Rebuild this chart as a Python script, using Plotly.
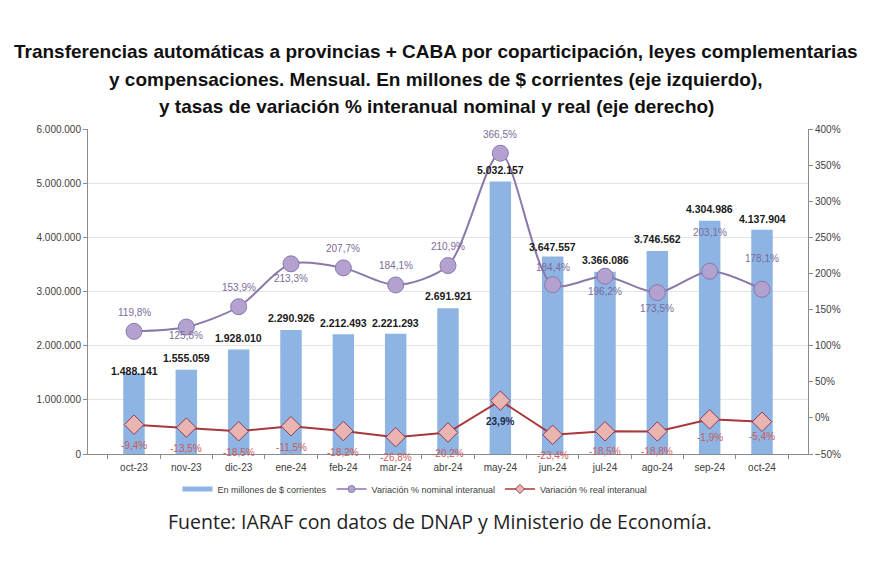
import plotly.graph_objects as go

months = ["oct-23", "nov-23", "dic-23", "ene-24", "feb-24", "mar-24", "abr-24",
          "may-24", "jun-24", "jul-24", "ago-24", "sep-24", "oct-24"]
millones = [1488141, 1555059, 1928010, 2290926, 2212493, 2221293, 2691921,
            5032157, 3647557, 3366086, 3746562, 4304986, 4137904]
nominal = [119.8, 125.8, 153.9, 213.3, 207.7, 184.1, 210.9,
           366.5, 184.4, 196.2, 173.5, 203.1, 178.1]
real = [-9.4, -13.5, -18.5, -11.5, -18.2, -26.8, -20.2,
        23.9, -23.4, -18.5, -18.8, -1.9, -5.4]

# label pixel offsets (styling)
bar_shift = [2, 12, 12, 12, 11, 11, 12, 11, 9, 12, 12, 12, 11]
nom_shift = [19, -8, 19, -15, 19, 19, 19, 19, 17, -15, -16, 39, 31]
real_shift = [-21, -21, -21, -21, -21, -20, -21, -21, -21, -20, -20, -18, -15]

FONT = "Liberation Sans, Arial, sans-serif"

BAR_C = "#8db4e2"
NOM_LINE = "#8a78ab"
NOM_FILL = "#b3a2cf"
REAL_LINE = "#a8383a"
REAL_FILL = "#eab5b0"
REAL_EDGE = "#8e3a5a"

def fmt_int(v):
    return f"{v:,}".replace(",", ".")

def fmt_pct(v):
    return f"{v:.1f}".replace(".", ",") + "%"

fig = go.Figure()
fig.add_trace(go.Bar(
    x=months, y=millones, name="En millones de $ corrientes",
    marker=dict(color=BAR_C, line=dict(width=0)), width=0.41,
    yaxis="y", showlegend=False,
))
fig.add_trace(go.Scatter(
    x=months, y=nominal, name="Variación % nominal interanual",
    mode="lines+markers", yaxis="y2", showlegend=False,
    line=dict(color=NOM_LINE, width=2, shape="spline", smoothing=0.8),
    marker=dict(symbol="circle", size=16, color=NOM_FILL,
                line=dict(color=NOM_LINE, width=1)),
))
fig.add_trace(go.Scatter(
    x=months, y=real, name="Variación % real interanual",
    mode="lines+markers", yaxis="y2", showlegend=False,
    line=dict(color=REAL_LINE, width=2),
    marker=dict(symbol="diamond", size=15, color=REAL_FILL,
                line=dict(color=REAL_EDGE, width=1)),
))
# legend-only entries (smaller symbols as in the reference)
fig.add_trace(go.Scatter(x=[None], y=[None], mode="lines", name="En millones de $ corrientes",
                         line=dict(color=BAR_C, width=5)))
fig.add_trace(go.Scatter(x=[None], y=[None], mode="lines+markers",
                         name="Variación % nominal interanual",
                         line=dict(color=NOM_LINE, width=1.5),
                         marker=dict(symbol="circle", size=7, color=NOM_FILL,
                                     line=dict(color=NOM_LINE, width=1))))
fig.add_trace(go.Scatter(x=[None], y=[None], mode="lines+markers",
                         name="Variación % real interanual",
                         line=dict(color=REAL_LINE, width=1.5),
                         marker=dict(symbol="diamond", size=7, color=REAL_FILL,
                                     line=dict(color=REAL_EDGE, width=1))))

ann = []
for m, v, s in zip(months, millones, bar_shift):
    ann.append(dict(x=m, y=v, xref="x", yref="y", text=f"<b>{fmt_int(v)}</b>",
                    showarrow=False, yshift=s, yanchor="middle",
                    font=dict(family=FONT, size=10.5, color="#1a1a1a")))
for m, v, s in zip(months, nominal, nom_shift):
    ann.append(dict(x=m, y=v, xref="x", yref="y2", text=fmt_pct(v),
                    showarrow=False, yshift=s, yanchor="middle",
                    font=dict(family=FONT, size=10, color="#7a6b9a")))
for m, v, s in zip(months, real, real_shift):
    pos = v > 0
    ann.append(dict(x=m, y=v, xref="x", yref="y2",
                    text=(f"<b>{fmt_pct(v)}</b>" if pos else fmt_pct(v)),
                    showarrow=False, yshift=s, yanchor="middle",
                    font=dict(family=FONT, size=10,
                              color="#1f2a4a" if pos else "#cc5a5a")))

title_lines = [
    "Transferencias automáticas a provincias + CABA por coparticipación, leyes complementarias",
    "y compensaciones. Mensual. En millones de $ corrientes (eje izquierdo),",
    "y tasas de variación % interanual nominal y real (eje derecho)",
]
title_y = [52, 79, 106]
for t, yp in zip(title_lines, title_y):
    ann.append(dict(x=(436 - 88) / 720, xref="paper", y=(454 - yp) / 325, yref="paper",
                    text=f"<b>{t}</b>", showarrow=False, xanchor="center",
                    yanchor="middle", font=dict(family=FONT, size=19, color="#111111")))
ann.append(dict(x=(440 - 88) / 720, xref="paper", y=(454 - 521) / 325, yref="paper",
                text="Fuente: IARAF con datos de DNAP y Ministerio de Economía.",
                showarrow=False, xanchor="center", yanchor="middle",
                font=dict(family="Open Sans, sans-serif", size=19.5, color="#222222")))

fig.update_layout(
    width=870, height=580,
    margin=dict(l=88, r=62, t=129, b=126),
    paper_bgcolor="white", plot_bgcolor="white",
    separators=",.",
    font=dict(family=FONT, size=10, color="#404040"),
    xaxis=dict(showline=True, linecolor="#8c8c8c", ticks="outside",
               tickson="boundaries", ticklen=4, tickcolor="#8c8c8c",
               ticklabelstandoff=4,
               tickfont=dict(size=10, color="#404040")),
    yaxis=dict(range=[0, 6000000], dtick=1000000, tickformat=",d",
               showline=True, linecolor="#8c8c8c", ticks="outside", ticklen=4,
               tickcolor="#8c8c8c", showgrid=True, gridcolor="#e4e4e4",
               zeroline=False, tickfont=dict(size=10, color="#404040")),
    yaxis2=dict(range=[-50, 400], dtick=50, ticksuffix="%", overlaying="y",
                side="right", showline=True, linecolor="#8c8c8c", ticks="outside",
                ticklen=4, tickcolor="#8c8c8c", showgrid=False, zeroline=False,
                tickfont=dict(size=10, color="#404040")),
    legend=dict(orientation="h", x=(415 - 88) / 720, xanchor="center",
                y=(454 - 489) / 325, yanchor="middle",
                font=dict(size=9, color="#404040"), itemwidth=30,
                traceorder="normal"),
    annotations=ann,
    showlegend=True,
)

fig.write_html("out.html")
